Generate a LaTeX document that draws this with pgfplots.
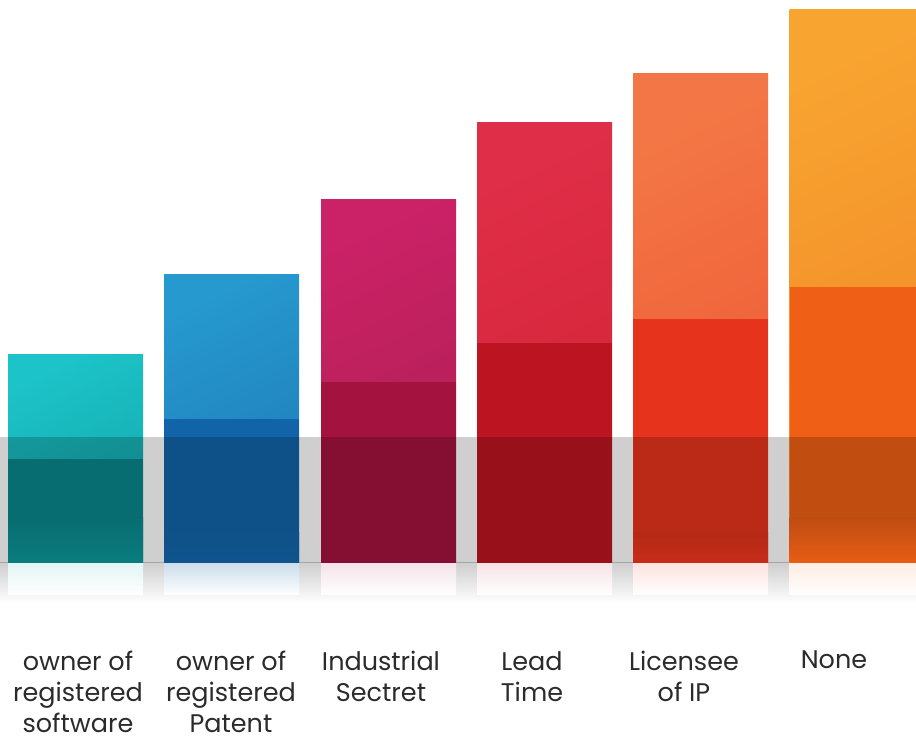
\documentclass[border=0pt]{standalone}
\usepackage{pgfplots}
\pgfplotsset{compat=1.18}
\usepackage{fontspec}
\setmainfont{Poppins}
\definecolor{u1a}{HTML}{1CC3C8}\definecolor{u1b}{HTML}{13A6AA}
\definecolor{u2a}{HTML}{2699CF}\definecolor{u2b}{HTML}{1F7AB6}
\definecolor{u3a}{HTML}{CB2166}\definecolor{u3b}{HTML}{AE2052}
\definecolor{u4a}{HTML}{DF2E47}\definecolor{u4b}{HTML}{D22337}
\definecolor{u5a}{HTML}{F37746}\definecolor{u5b}{HTML}{EE5834}
\definecolor{u6a}{HTML}{F8A431}\definecolor{u6b}{HTML}{F08626}
\definecolor{l1}{HTML}{0A878A}
\definecolor{l2}{HTML}{1264A8}
\definecolor{l3}{HTML}{A4133F}
\definecolor{l4}{HTML}{BC1421}
\definecolor{l5}{HTML}{E6341C}
\definecolor{l6}{HTML}{EF6016}
\definecolor{txt}{HTML}{2B2B2B}
\pgfplotsset{mybar/.style={ybar, bar width=135, bar shift=0, draw=none}}
\begin{document}
\begin{tikzpicture}
\begin{axis}[width=916pt, height=738pt, scale only axis,
  xmin=0, xmax=916, ymin=-175, ymax=563, hide axis, clip=true]
% gray fade below the band
\addplot[draw=none, top color=black!19, bottom color=white] coordinates {(0,0) (916,0) (916,-40) (0,-40)} -- cycle;
% reflections
\addplot[mybar, top color=u1b!12!white, bottom color=white] coordinates {(75.5,-32)};
\addplot[mybar, top color=l2!22!white, bottom color=white] coordinates {(231.5,-32)};
\addplot[mybar, top color=l3!12!white, bottom color=white] coordinates {(388.5,-32)};
\addplot[mybar, top color=l4!12!white, bottom color=white] coordinates {(544.5,-32)};
\addplot[mybar, top color=l5!14!white, bottom color=white] coordinates {(700.5,-32)};
\addplot[mybar, top color=l6!12!white, bottom color=white] coordinates {(857,-32)};
% full bars (upper colour)
\addplot[mybar, top color=u1a, bottom color=u1b, shading angle=25] coordinates {(75.5,208)};
\addplot[mybar, top color=u2a, bottom color=u2b, shading angle=25] coordinates {(231.5,288)};
\addplot[mybar, top color=u3a, bottom color=u3b, shading angle=25] coordinates {(388.5,363)};
\addplot[mybar, top color=u4a, bottom color=u4b, shading angle=25] coordinates {(544.5,440)};
\addplot[mybar, top color=u5a, bottom color=u5b, shading angle=25] coordinates {(700.5,489)};
\addplot[mybar, top color=u6a, bottom color=u6b, shading angle=25] coordinates {(857,553)};
% lower sections
\addplot[mybar, fill=l1] coordinates {(75.5,104)};
\addplot[mybar, fill=l2] coordinates {(231.5,144)};
\addplot[mybar, fill=l3] coordinates {(388.5,181)};
\addplot[mybar, fill=l4] coordinates {(544.5,220)};
\addplot[mybar, fill=l5] coordinates {(700.5,244)};
\addplot[mybar, fill=l6] coordinates {(857,276)};
% gray band
\addplot[draw=none, fill=black, fill opacity=0.19] coordinates {(0,126) (916,126) (916,0) (0,0)} -- cycle;
% bottom glows
\addplot[mybar, top color=l1!81!black, bottom color=l1!92!black] coordinates {(75.5,45)};
\addplot[mybar, top color=l2!81!black, bottom color=l2!84!black] coordinates {(231.5,30)};
\addplot[mybar, top color=l5!79!black, bottom color=l5!86!black] coordinates {(700.5,30)};
\addplot[mybar, top color=l6!80!black, bottom color=l6!97!black] coordinates {(857,45)};
% labels
\begin{scope}[every node/.style={anchor=north, align=center, inner sep=0pt, text=txt, font=\fontsize{25.5}{31}\selectfont}]
\node at (axis cs:78,-88) {owner of\\registered\\software};
\node at (axis cs:231,-88) {owner of\\registered\\Patent};
\node at (axis cs:381,-88) {Industrial\\Sectret};
\node at (axis cs:532,-88) {Lead\\Time};
\node at (axis cs:684,-88) {Licensee\\of IP};
\node at (axis cs:834,-88) {None};
\end{scope}
\end{axis}
\pgfresetboundingbox
\path[use as bounding box] (current axis.south west) rectangle (current axis.north east);
\end{tikzpicture}
\end{document}
